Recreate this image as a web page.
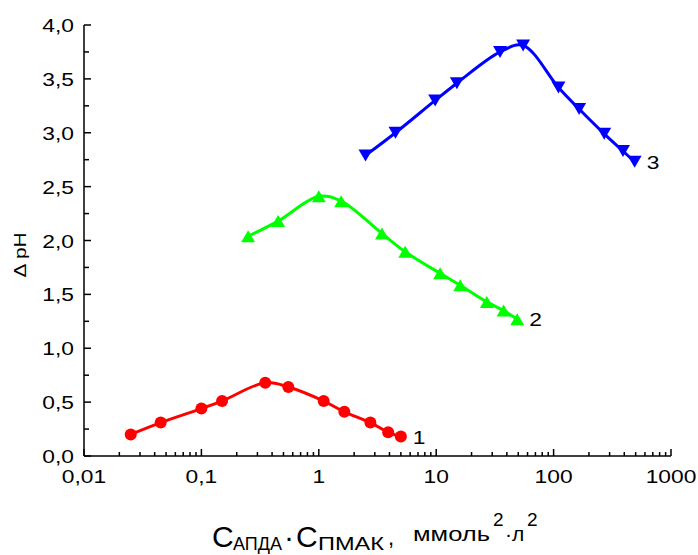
<!DOCTYPE html>
<html>
<head>
<meta charset="utf-8">
<script src="https://cdn.jsdelivr.net/npm/d3@7"></script>
<style>
  body { margin: 0; background: #fff; }
  svg { display: block; }
</style>
</head>
<body>
<div id="chart"></div>
<script>
// curve 1 (red, circles)
var x1 = [0.025, 0.045, 0.1, 0.15, 0.35, 0.55, 1.1, 1.65, 2.75, 3.9, 5.0];
var y1 = [0.20, 0.31, 0.44, 0.51, 0.68, 0.64, 0.51, 0.41, 0.31, 0.22, 0.18];
// curve 2 (green, up triangles)
var x2 = [0.25, 0.45, 1.0, 1.55, 3.45, 5.45, 10.8, 16, 27, 37.5, 49];
var y2 = [2.04, 2.18, 2.41, 2.365, 2.065, 1.895, 1.695, 1.585, 1.43, 1.35, 1.27];
// curve 3 (blue, down triangles)
var x3 = [2.5, 4.5, 9.8, 15, 35, 55, 110, 165, 270, 390, 490];
var y3 = [2.79, 3.0, 3.3, 3.46, 3.75, 3.81, 3.42, 3.22, 2.99, 2.83, 2.73];
var seriesNames = ["1", "2", "3"];
var xTickValues = [0.01, 0.1, 1, 10, 100, 1000];
var xTickLabels = ["0,01", "0,1", "1", "10", "100", "1000"];
var yTickValues = [0, 0.5, 1, 1.5, 2, 2.5, 3, 3.5, 4];

var width = 698,
  height = 555;
var margin = { top: 25, left: 84, right: 27, bottom: 99 };
var font = "Arial, 'Liberation Sans', sans-serif";
var stretch = 1.2; // glyphs in the picture are wider than plain Arial

var svg = d3
  .select("#chart")
  .append("svg")
  .attr("width", width)
  .attr("height", height);

var x = d3
  .scaleLog()
  .domain([0.01, 1000])
  .range([margin.left, width - margin.right]);
var y = d3
  .scaleLinear()
  .domain([0, 4])
  .range([height - margin.bottom, margin.top]);

var series = [
  { name: seriesNames[0], xs: x1, ys: y1, color: "#ff0000", marker: "circle" },
  { name: seriesNames[1], xs: x2, ys: y2, color: "#00ff00", marker: "up" },
  { name: seriesNames[2], xs: x3, ys: y3, color: "#0000ff", marker: "down" },
];

// minor ticks: 2..9 inside each decade, quarter steps on y
var xMinor = [];
for (var e = -2; e < 3; e++) {
  for (var m = 2; m < 10; m++) xMinor.push(m * Math.pow(10, e));
}
var yMinor = d3.range(0.25, 4, 0.5);

var axes = svg.append("g").attr("stroke", "#000").attr("stroke-width", 1.5);
axes
  .append("line")
  .attr("x1", x.range()[0])
  .attr("x2", x.range()[1])
  .attr("y1", y(0))
  .attr("y2", y(0));
axes
  .append("line")
  .attr("x1", x(0.01))
  .attr("x2", x(0.01))
  .attr("y1", y(0))
  .attr("y2", y(4));
axes
  .selectAll(".xmaj")
  .data(xTickValues)
  .enter()
  .append("line")
  .attr("x1", function (d) { return x(d); })
  .attr("x2", function (d) { return x(d); })
  .attr("y1", y(0))
  .attr("y2", y(0) - 7);
axes
  .selectAll(".xmin")
  .data(xMinor)
  .enter()
  .append("line")
  .attr("x1", function (d) { return x(d); })
  .attr("x2", function (d) { return x(d); })
  .attr("y1", y(0))
  .attr("y2", y(0) - 4);
axes
  .selectAll(".ymaj")
  .data(yTickValues)
  .enter()
  .append("line")
  .attr("x1", x(0.01))
  .attr("x2", x(0.01) + 7)
  .attr("y1", function (d) { return y(d); })
  .attr("y2", function (d) { return y(d); });
axes
  .selectAll(".ymin")
  .data(yMinor)
  .enter()
  .append("line")
  .attr("x1", x(0.01))
  .attr("x2", x(0.01) + 5)
  .attr("y1", function (d) { return y(d); })
  .attr("y2", function (d) { return y(d); });

// tick labels
svg
  .selectAll(".xlab")
  .data(xTickValues)
  .enter()
  .append("text")
  .attr("transform", function (d) {
    return "translate(" + x(d) + "," + (y(0) + 27) + ") scale(" + stretch + ",1)";
  })
  .attr("text-anchor", "middle")
  .attr("font-family", font)
  .attr("font-size", "19px")
  .text(function (d, i) { return xTickLabels[i]; });
svg
  .selectAll(".ylab")
  .data(yTickValues)
  .enter()
  .append("text")
  .attr("transform", function (d) {
    return "translate(" + (x(0.01) - 10) + "," + (y(d) + 7) + ") scale(" + stretch + ",1)";
  })
  .attr("text-anchor", "end")
  .attr("font-family", font)
  .attr("font-size", "19px")
  .text(function (d) { return d3.format(".1f")(d).replace(".", ","); });

// curves
var line = d3
  .line()
  .x(function (d) { return x(d[0]); })
  .y(function (d) { return y(d[1]); })
  .curve(d3.curveCatmullRom.alpha(0.5));

var tri = function (dir) {
  var w = 14, h = 12;
  return dir === "up"
    ? "M0," + -h / 2 + "L" + w / 2 + "," + h / 2 + "L" + -w / 2 + "," + h / 2 + "Z"
    : "M0," + h / 2 + "L" + w / 2 + "," + -h / 2 + "L" + -w / 2 + "," + -h / 2 + "Z";
};

series.forEach(function (s) {
  var pts = s.xs.map(function (v, i) { return [v, s.ys[i]]; });
  var g = svg.append("g");
  g.append("path")
    .attr("d", line(pts))
    .attr("fill", "none")
    .attr("stroke", s.color)
    .attr("stroke-width", 3);
  if (s.marker === "circle") {
    g.selectAll("circle")
      .data(pts)
      .enter()
      .append("circle")
      .attr("cx", function (d) { return x(d[0]); })
      .attr("cy", function (d) { return y(d[1]); })
      .attr("r", 6)
      .attr("fill", s.color);
  } else {
    g.selectAll(".m")
      .data(pts)
      .enter()
      .append("path")
      .attr("d", tri(s.marker))
      .attr("transform", function (d) {
        return "translate(" + x(d[0]) + "," + y(d[1]) + ")";
      })
      .attr("fill", s.color);
  }
  var last = pts[pts.length - 1];
  svg
    .append("text")
    .attr("transform", "translate(" + (x(last[0]) + 12) + "," + (y(last[1]) + 7) + ") scale(" + stretch + ",1)")
    .attr("font-family", font)
    .attr("font-size", "19px")
    .text(s.name);
});

// y axis title
svg
  .append("text")
  .attr("transform", "translate(26,255) rotate(-90) scale(1.3,1)")
  .attr("text-anchor", "middle")
  .attr("font-family", font)
  .attr("font-size", "16px")
  .text("\u0394 pH");

// x axis title, built from pieces with sub/superscripts
var title = svg
  .append("text")
  .attr("font-family", font)
  .attr("fill", "#000");
var pieces = [
  { t: "C", x: 212, y: 547, s: 30 },
  { t: "АПДА", x: 233, y: 550, s: 18 },
  { t: "·", x: 284, y: 547, s: 30 },
  { t: "C", x: 296, y: 547, s: 30 },
  { t: "ПМАК", x: 318, y: 550, s: 18, w: 66 },
  { t: ",", x: 388, y: 545, s: 22 },
  { t: "ммоль", x: 413, y: 541, s: 21, w: 77 },
  { t: "2", x: 493, y: 526, s: 19 },
  { t: "·л", x: 505, y: 541, s: 21 },
  { t: "2", x: 527, y: 526, s: 19 },
];
pieces.forEach(function (p) {
  var ts = title
    .append("tspan")
    .attr("x", p.x)
    .attr("y", p.y)
    .attr("font-size", p.s + "px")
    .text(p.t);
  if (p.w) ts.attr("textLength", p.w).attr("lengthAdjust", "spacingAndGlyphs");
});
</script>
</body>
</html>
